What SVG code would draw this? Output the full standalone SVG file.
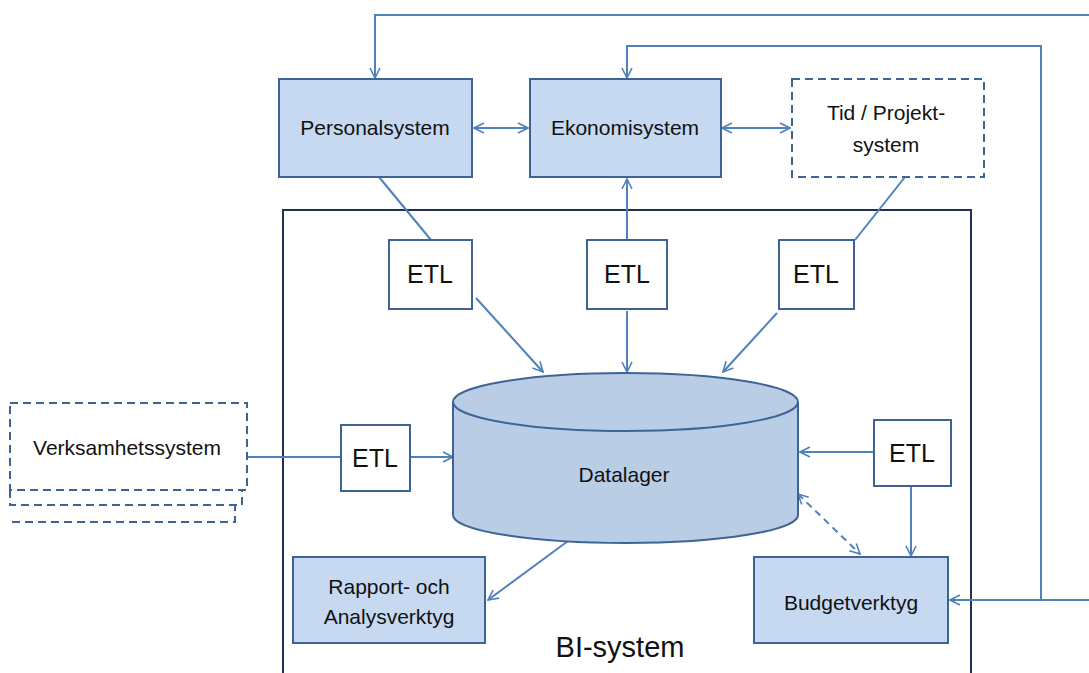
<svg xmlns="http://www.w3.org/2000/svg" width="1089" height="673" viewBox="0 0 1089 673">
<defs>
<marker id="ah" viewBox="0 0 12 12" refX="11" refY="6" markerWidth="12" markerHeight="12" markerUnits="userSpaceOnUse" orient="auto-start-reverse">
<path d="M1,1 L11,6 L1,11" fill="none" stroke="#4F81BD" stroke-width="1.6"/>
</marker>
<style>
.box{fill:#C6D9F1;stroke:#3E6496;stroke-width:2}
.dash{fill:#FFFFFF;stroke:#3E6496;stroke-width:2;stroke-dasharray:8,5}
.etl{fill:#FFFFFF;stroke:#3E6496;stroke-width:2}
.con{fill:none;stroke:#4F81BD;stroke-width:2}
.t{font-family:"Liberation Sans",Arial,sans-serif;font-size:21px;fill:#111;text-anchor:middle}
.te{font-family:"Liberation Sans",Arial,sans-serif;font-size:25px;fill:#111;text-anchor:middle}
</style>
</defs>
<rect width="1089" height="673" fill="#FFFFFF"/>

<g id="bi-system">
<rect x="283" y="210" width="688" height="480" fill="none" stroke="#1F3050" stroke-width="2"/>
<text x="620" y="657" class="t" style="font-size:29px">BI-system</text>
</g>

<g id="connectors">
<polyline class="con" points="1089,15 375,15 375,78" marker-end="url(#ah)"/>
<polyline class="con" points="1041,600 1041,46 627,46 627,78" marker-end="url(#ah)"/>
<line class="con" x1="1089" y1="600" x2="950" y2="600" marker-end="url(#ah)"/>
<line class="con" x1="474" y1="128" x2="528" y2="128" marker-start="url(#ah)" marker-end="url(#ah)"/>
<line class="con" x1="722" y1="128" x2="790" y2="128" marker-start="url(#ah)" marker-end="url(#ah)"/>
<line class="con" x1="379" y1="177" x2="431" y2="240"/>
<line class="con" x1="905" y1="177" x2="855" y2="240"/>
<line class="con" x1="627" y1="240" x2="627" y2="179" marker-end="url(#ah)"/>
<line class="con" x1="476" y1="298" x2="543" y2="372" marker-end="url(#ah)"/>
<line class="con" x1="627" y1="311" x2="627" y2="372" marker-end="url(#ah)"/>
<line class="con" x1="777" y1="313" x2="723" y2="372" marker-end="url(#ah)"/>
<line class="con" x1="247" y1="457" x2="341" y2="457"/>
<line class="con" x1="410" y1="457" x2="453" y2="457" marker-end="url(#ah)"/>
<line class="con" x1="874" y1="452" x2="800" y2="452" marker-end="url(#ah)"/>
<line class="con" x1="911" y1="487" x2="911" y2="556" marker-end="url(#ah)"/>
<line class="con" x1="798" y1="494" x2="860" y2="554" stroke-dasharray="7,5" marker-start="url(#ah)" marker-end="url(#ah)"/>
<line class="con" x1="568" y1="541" x2="488" y2="600" marker-end="url(#ah)"/>
</g>

<g id="personalsystem">
<rect class="box" x="279" y="79" width="193" height="98"/>
<text class="t" x="375" y="135">Personalsystem</text>
</g>

<g id="ekonomisystem">
<rect class="box" x="530" y="79" width="191" height="98"/>
<text class="t" x="625" y="135">Ekonomisystem</text>
</g>

<g id="tid-projektsystem">
<rect class="dash" x="792" y="79" width="192" height="98"/>
<text class="t" x="886" y="120">Tid / Projekt-</text>
<text class="t" x="886" y="152">system</text>
</g>

<g id="verksamhetssystem">
<polyline points="12,522 235,522 235,505" fill="none" stroke="#3E6496" stroke-width="2" stroke-dasharray="8,5"/>
<polyline points="10,490 10,505 242,505 242,490" fill="none" stroke="#3E6496" stroke-width="2" stroke-dasharray="8,5"/>
<rect class="dash" x="10" y="403" width="237" height="87"/>
<text class="t" x="127" y="455">Verksamhetssystem</text>
</g>

<g id="etl-1">
<rect class="etl" x="389" y="240" width="83" height="69"/>
<text class="te" x="430" y="283">ETL</text>
</g>
<g id="etl-2">
<rect class="etl" x="587" y="240" width="80" height="69"/>
<text class="te" x="627" y="283">ETL</text>
</g>
<g id="etl-3">
<rect class="etl" x="779" y="240" width="75" height="69"/>
<text class="te" x="816" y="283">ETL</text>
</g>
<g id="etl-4">
<rect class="etl" x="341" y="425" width="69" height="66"/>
<text class="te" x="375" y="467">ETL</text>
</g>
<g id="etl-5">
<rect class="etl" x="874" y="420" width="77" height="66"/>
<text class="te" x="912" y="462">ETL</text>
</g>

<g id="datalager">
<path d="M453,402 L453,515 A172.5,28 0 0 0 798,515 L798,402" fill="#B9CDE5" stroke="#3E6496" stroke-width="2"/>
<ellipse cx="625.5" cy="402" rx="172.5" ry="29" fill="#B9CDE5" stroke="#3E6496" stroke-width="2"/>
<text class="t" x="624" y="482">Datalager</text>
</g>

<g id="rapport-analysverktyg">
<rect class="box" x="293" y="557" width="192" height="86"/>
<text class="t" x="389" y="594">Rapport- och</text>
<text class="t" x="389" y="624">Analysverktyg</text>
</g>

<g id="budgetverktyg">
<rect class="box" x="754" y="557" width="194" height="86"/>
<text class="t" x="851" y="610">Budgetverktyg</text>
</g>
</svg>
